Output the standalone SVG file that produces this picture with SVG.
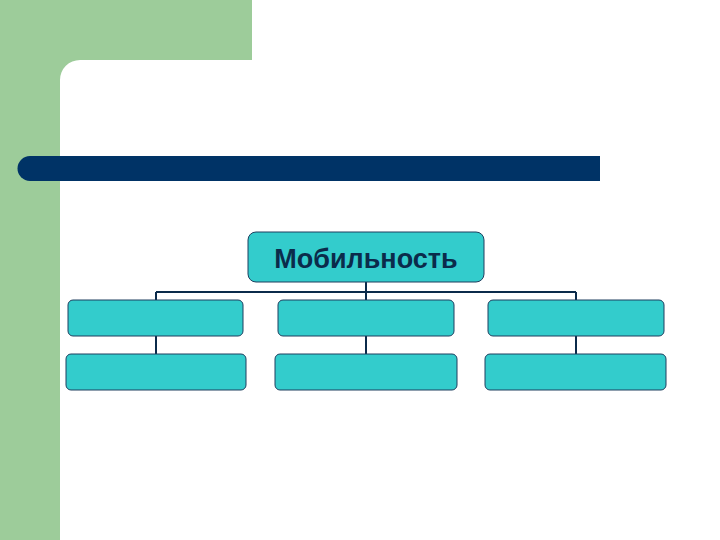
<svg xmlns="http://www.w3.org/2000/svg" width="720" height="540" viewBox="0 0 720 540">
<style>
.box{fill:#33CCCC;stroke:#1F3F5F;stroke-width:1}
.ln{stroke:#0B2B4B;stroke-width:2;fill:none}
</style>
<rect width="720" height="540" fill="#fff"/>
<path d="M0 0H252V60H80A20 20 0 0 0 60 80V540H0Z" fill="#9DCC9A"/>
<path d="M30 156H600V181H30A12.5 12.5 0 0 1 30 156Z" fill="#003366"/>
<g id="connectors" class="ln">
<path d="M366 282V300M156 292H576M156 292V300M576 292V300M156 336V354M366 336V354M576 336V354"/>
</g>
<g id="root"><rect class="box" x="248" y="232" width="236" height="50" rx="8"/>
<text x="366" y="268" text-anchor="middle" font-family="Liberation Sans, sans-serif" font-weight="bold" font-size="27" fill="#0B2B4B">Мобильность</text></g>
<g id="n1"><rect class="box" x="68" y="300" width="175" height="36" rx="5"/></g>
<g id="n2"><rect class="box" x="278" y="300" width="176" height="36" rx="5"/></g>
<g id="n3"><rect class="box" x="488" y="300" width="176" height="36" rx="5"/></g>
<g id="n4"><rect class="box" x="66" y="354" width="180" height="36" rx="5"/></g>
<g id="n5"><rect class="box" x="275" y="354" width="182" height="36" rx="5"/></g>
<g id="n6"><rect class="box" x="485" y="354" width="181" height="36" rx="5"/></g>
</svg>
